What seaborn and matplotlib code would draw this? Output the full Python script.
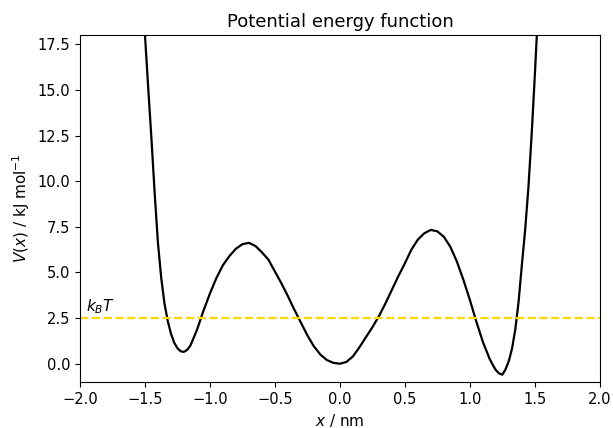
import matplotlib
matplotlib.use("Agg")
import matplotlib.pyplot as plt
import seaborn as sns
import pandas as pd

x_nm = [-1.55, -1.50, -1.475, -1.45, -1.425, -1.40, -1.375, -1.35, -1.325, -1.30,
        -1.275, -1.25, -1.225, -1.20, -1.175, -1.15, -1.10,
        -1.05, -1.00, -0.95, -0.90, -0.85, -0.80, -0.75, -0.70, -0.65, -0.60,
        -0.55, -0.50, -0.45, -0.40, -0.35, -0.30, -0.25, -0.20, -0.15, -0.10,
        -0.05, 0.00, 0.05, 0.10, 0.15, 0.20, 0.25, 0.30, 0.35, 0.40,
        0.45, 0.50, 0.55, 0.60, 0.65, 0.70, 0.75, 0.80, 0.85, 0.90,
        0.95, 1.00, 1.05, 1.10, 1.15, 1.175, 1.20, 1.225, 1.25, 1.275,
        1.30, 1.325, 1.35, 1.375, 1.40, 1.425, 1.45, 1.475, 1.50, 1.55]
V_kj = [24.5, 18.0, 15.1, 12.3, 9.3, 6.6, 4.7, 3.3, 2.35, 1.65,
        1.15, 0.85, 0.68, 0.65, 0.76, 1.0, 1.85,
        2.9, 3.85, 4.7, 5.4, 5.9, 6.3, 6.55, 6.62, 6.45, 6.1,
        5.7, 5.05, 4.4, 3.7, 2.95, 2.25, 1.55, 0.95, 0.5, 0.2,
        0.05, 0.0, 0.1, 0.4, 0.9, 1.45, 2.0, 2.6, 3.3, 4.05,
        4.8, 5.5, 6.25, 6.8, 7.15, 7.33, 7.25, 6.95, 6.4, 5.6,
        4.6, 3.5, 2.3, 1.2, 0.3, -0.05, -0.35, -0.53, -0.6, -0.3,
        0.15, 0.85, 1.9, 3.4, 5.4, 7.3, 9.6, 12.5, 15.8, 23.0]
kBT = 2.5

df = pd.DataFrame({"x": x_nm, "V": V_kj})

fig = plt.figure(figsize=(6.13, 4.28), dpi=100)
ax = fig.add_axes([0.1305, 0.1075, 0.848, 0.8105])
sns.lineplot(data=df, x="x", y="V", color="black", linewidth=1.6, ax=ax, sort=False)
ax.axhline(kBT, color="#FFD700", linestyle="--", linewidth=1.6)
ax.text(-1.95, kBT + 0.35, r"$k_BT$", fontsize=11)
ax.set_xlim(-2, 2)
ax.set_ylim(-1, 18)
ax.tick_params(labelsize=10.5)
ax.set_xlabel(r"$x$ / nm", fontsize=11)
ax.set_ylabel(r"$V(x)$ / kJ mol$^{-1}$", fontsize=11)
ax.set_title("Potential energy function", fontsize=13)
fig.savefig("out.png", dpi=100)
